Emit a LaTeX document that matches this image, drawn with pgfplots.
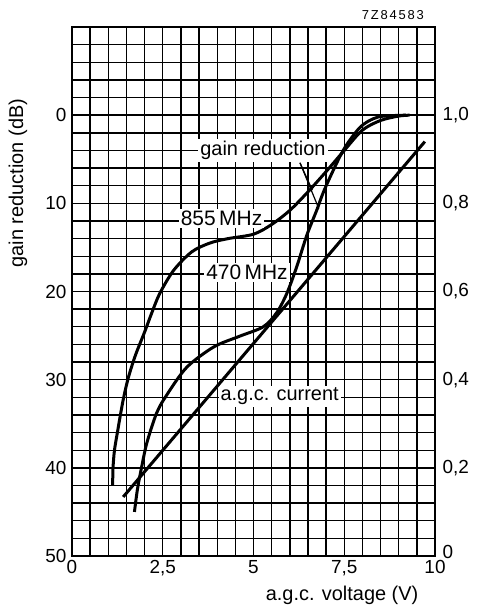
\documentclass[border=0pt]{standalone}
\usepackage{fontspec}
\setmainfont{Liberation Sans}
\usepackage{pgfplots}
\pgfplotsset{compat=1.18}
\begin{document}
\begin{tikzpicture}
\path[use as bounding box] (0,0) rectangle (480bp,605bp);
\begin{axis}[
  scale only axis, width=363bp, height=529bp,
  at={(72bp,49bp)}, anchor=south west,
  xmin=0, xmax=10, ymin=-10, ymax=50, y dir=reverse,
  xtick={0,2.5,5,7.5,10}, xticklabels={0,{2,5},5,{7,5},10},
  ytick={0,10,20,30,40,50}, yticklabels={0,10,20,30,40,50},
  minor xtick={0,0.5,...,10}, minor ytick={-10,-8,...,50},
  grid=both,
  grid style={black, line width=1.4bp},
  minor grid style={black, line width=1.4bp},
  major grid style={black, line width=1.4bp},
  tick style={draw=none},
  axis line style={line width=2.6bp},
  ticklabel style={font=\fontsize{19}{19}\selectfont},
  xticklabel style={yshift=-1bp},
  yticklabel style={xshift=-2bp},
  clip=false,
]
% 855 MHz
\addplot[black, line width=3bp, smooth, tension=0.5] coordinates {
 (1.12,42) (1.13,40) (1.17,38) (1.25,36) (1.4,32.5) (1.55,29.8) (1.75,27.2)
 (2.0,24.6) (2.2,22.4) (2.42,20.2) (2.8,17.6) (3.3,15.5) (3.8,14.5) (4.3,14.0)
 (5.0,13.5) (5.5,12.4) (6.0,10.8) (6.5,8.7) (7.0,6.4) (7.5,4.0) (8.0,1.7)
 (8.5,0.6) (9.0,0.1) (9.3,0)
};
% 470 MHz
\addplot[black, line width=3bp, smooth, tension=0.5] coordinates {
 (1.72,45) (1.8,42.5) (1.9,40.3) (2.06,37.2) (2.33,33.8) (2.6,31.8) (3.16,28.6)
 (3.9,26.3) (4.6,25.1) (5.27,24) (5.64,22.4) (5.92,20.2) (6.19,17.2) (6.47,13.6)
 (6.74,10.8) (6.97,8.3) (7.47,4.0) (7.93,1.4) (8.3,0.4) (8.6,0.1) (9.2,0)
};
% labels
\node[fill=white, inner sep=2bp, font=\fontsize{20}{20}\selectfont] at (axis cs:5.26,4) {gain reduction};
\node[fill=white, inner sep=2bp, font=\fontsize{21}{21}\selectfont] at (axis cs:4.12,11.7) {855\,MHz};
\node[fill=white, inner sep=2bp, font=\fontsize{21}{21}\selectfont] at (axis cs:4.82,17.8) {470\,MHz};
\node[fill=white, inner sep=2bp, font=\fontsize{20}{20}\selectfont] at (axis cs:5.72,31.9) {a.g.c. current};
\draw[black, line width=1.2bp] (axis cs:6.28,5.4) -- (axis cs:6.62,8.5);
\draw[black, line width=1.2bp] (axis cs:6.28,5.4) -- (axis cs:6.8,10.6);
\node[font=\fontsize{20}{20}\selectfont, rotate=90] at (axis cs:-1.49,7.7) {gain reduction (dB)};
\node[font=\fontsize{20}{20}\selectfont] at (axis cs:7.44,54.5) {a.g.c. voltage (V)};
\node[font=\fontsize{13}{13}\selectfont\addfontfeature{LetterSpace=14}] at (axis cs:8.84,-11.4) {7Z84583};
\end{axis}
\begin{axis}[
  scale only axis, width=363bp, height=529bp,
  at={(72bp,49bp)}, anchor=south west,
  xmin=0, xmax=10, ymin=0, ymax=1.2,
  axis x line=none, axis y line*=right,
  axis line style={draw=none},
  ytick={0,0.2,0.4,0.6,0.8,1.0},
  yticklabels={\smash{\raisebox{-3bp}{0}},{0,2},{0,4},{0,6},{0,8},{1,0}},
  tick style={draw=none},
  ticklabel style={font=\fontsize{19}{19}\selectfont},
  yticklabel style={xshift=4bp},
]
% a.g.c. current
\addplot[black, line width=3bp] coordinates {(1.41,0.134) (9.72,0.94)};
\end{axis}
\end{tikzpicture}
\end{document}
